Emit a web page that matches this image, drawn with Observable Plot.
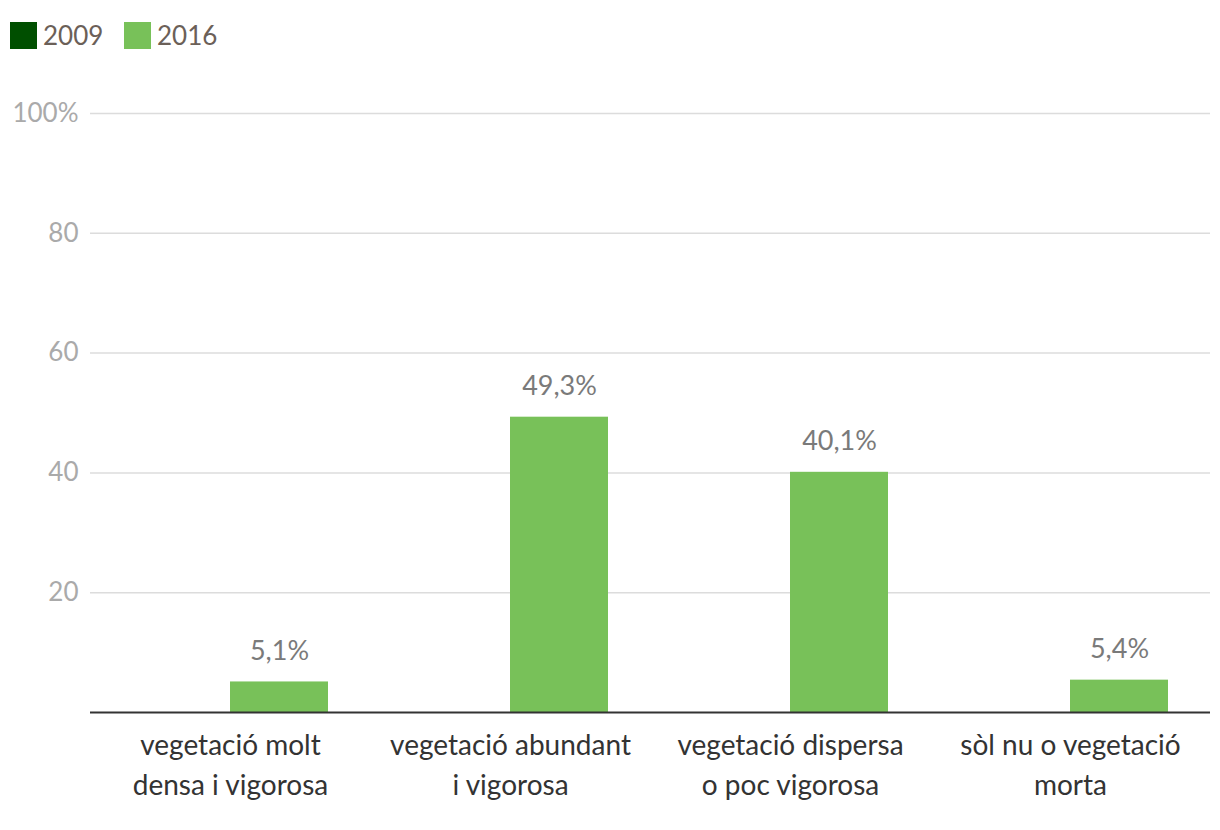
<!DOCTYPE html>
<html>
<head>
<meta charset="utf-8">
<script src="https://cdn.jsdelivr.net/npm/d3@7"></script>
<script src="https://cdn.jsdelivr.net/npm/@observablehq/plot@0.6"></script>
<style>
  body { margin: 0; background: #fff; font-family: Lato, "Noto Sans", sans-serif; }
  #legend { height: 70px; position: relative; }
  .item { position: absolute; top: 19px; display: flex; align-items: center; font-size: 26px; color: #6b6058; }
  .sw { width: 27px; height: 27px; margin-right: 6px; }
</style>
</head>
<body>
<div id="legend"></div>
<div id="chart"></div>
<script>
const categories = ["vegetació molt densa i vigorosa", "vegetació abundant i vigorosa", "vegetació dispersa o poc vigorosa", "sòl nu o vegetació morta"];
const categoryLabels = ["vegetació molt\ndensa i vigorosa", "vegetació abundant\ni vigorosa", "vegetació dispersa\no poc vigorosa", "sòl nu o vegetació\nmorta"];
const years = ["2009", "2016"];
const values2009 = [null, null, null, null];
const values2016 = [5.1, 49.3, 40.1, 5.4];
const valueLabels2016 = ["5,1%", "49,3%", "40,1%", "5,4%"];
const yTicks = [20, 40, 60, 80, 100];
const colors = ["#004f00", "#78c159"];

const data = [];
categories.forEach((c, i) => {
  data.push({category: c, year: "2009", value: values2009[i], label: null});
  data.push({category: c, year: "2016", value: values2016[i], label: valueLabels2016[i]});
});
const labelMap = new Map(categories.map((c, i) => [c, categoryLabels[i]]));

const legend = document.getElementById("legend");
const lefts = [10, 124];
years.forEach((y, i) => {
  const d = document.createElement("div");
  d.className = "item";
  d.style.left = lefts[i] + "px";
  d.innerHTML = `<span class="sw" style="background:${colors[i]}"></span><span>${y}</span>`;
  legend.appendChild(d);
});

const chart = Plot.plot({
  width: 1220,
  height: 760,
  marginTop: 43,
  marginBottom: 118,
  marginLeft: 90,
  marginRight: 10,
  style: {fontFamily: "Lato, 'Noto Sans', sans-serif", background: "#fff"},
  fx: {domain: categories, padding: 0, label: null},
  x: {domain: years, paddingInner: 0, paddingOuter: 0.42, axis: null},
  y: {domain: [0, 100], label: null},
  color: {domain: years, range: colors},
  marks: [
    Plot.gridY(yTicks, {stroke: "#dcdcdc", strokeOpacity: 1, strokeWidth: 1.5}),
    Plot.axisY(yTicks, {tickSize: 0, tickPadding: 12, fontSize: 26, fill: "#aaa",
      tickFormat: d => d === 100 ? "100%" : String(d), label: null}),
    Plot.barY(data.filter(d => d.value != null), {fx: "category", x: "year", y: "value", fill: "year"}),
    Plot.text(data.filter(d => d.label != null), {fx: "category", x: "year", y: "value", text: "label",
      dy: -31, fontSize: 27, fill: "#7a7a7a"}),
    Plot.ruleY([0], {stroke: "#333", strokeWidth: 2}),
    Plot.axisFx({anchor: "bottom", tickSize: 0, tickPadding: 15, fontSize: 28, fill: "#333", lineAnchor: "top",
      lineHeight: 1.4, tickFormat: c => labelMap.get(c), label: null})
  ]
});
document.getElementById("chart").appendChild(chart);
</script>
</body>
</html>
